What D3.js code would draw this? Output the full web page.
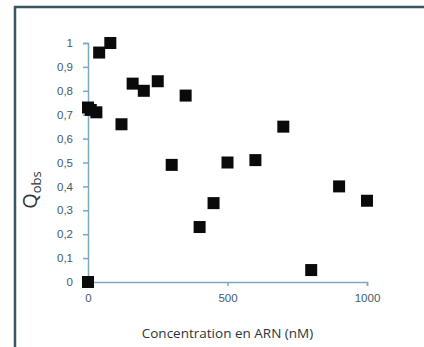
<!DOCTYPE html>
<html>
<head>
<meta charset="utf-8">
<script src="https://cdn.jsdelivr.net/npm/d3@7"></script>
<style>
  body { margin: 0; background: #fff; }
  svg { display: block; }
</style>
</head>
<body>
<svg id="chart"></svg>
<script>
// concentration (nM) and Qobs
const concentration = [0, 0, 10, 30, 40, 80, 120, 160, 200, 250, 300, 350, 400, 450, 500, 600, 700, 800, 900, 1000];
const qobs = [0, 0.73, 0.72, 0.71, 0.96, 1.0, 0.66, 0.83, 0.80, 0.84, 0.49, 0.78, 0.23, 0.33, 0.50, 0.51, 0.65, 0.05, 0.40, 0.34];
const xTicks = [0, 500, 1000];
const yTicks = [0, 0.1, 0.2, 0.3, 0.4, 0.5, 0.6, 0.7, 0.8, 0.9, 1];

const width = 424;
const height = 347;
const margin = {top: 43, left: 88, bottom: 65, right: 57};
const iwidth = width - margin.left - margin.right;
const iheight = height - margin.top - margin.bottom;

const svg = d3.select("#chart")
  .attr("width", width)
  .attr("height", height)
  .style("font-family", "'Open Sans', sans-serif");

// outer frame (runs off the right and bottom edges)
svg.append("path")
  .attr("d", `M15,${height + 5}V7H${width + 5}`)
  .attr("fill", "none")
  .attr("stroke", "#3a5662")
  .attr("stroke-width", 2.5);

const g = svg.append("g").attr("transform", `translate(${margin.left},${margin.top})`);

const x = d3.scaleLinear().domain([0, 1000]).range([0, iwidth]);
const y = d3.scaleLinear().domain([0, 1]).range([iheight, 0]);

const fmt = d => String(d).replace(".", ",");

const xAxis = g.append("g")
  .attr("transform", `translate(0,${iheight})`)
  .call(d3.axisBottom(x).tickValues(xTicks).tickSize(4).tickPadding(8).tickFormat(d3.format("d")));

const yAxis = g.append("g")
  .call(d3.axisLeft(y).tickValues(yTicks).tickSize(5).tickPadding(10).tickFormat(fmt));

[xAxis, yAxis].forEach(a => {
  a.select(".domain").attr("stroke", "#7ba7c4").attr("stroke-width", 1.5);
  a.selectAll(".tick line").attr("stroke", "#7ba7c4").attr("stroke-width", 1.5);
  a.selectAll(".tick text").attr("fill", "#3f5a6a").style("font-size", "11.5px");
});

g.selectAll("rect.pt")
  .data(concentration.map((c, i) => ({c, q: qobs[i]})))
  .enter().append("rect")
  .attr("class", "pt")
  .attr("x", d => x(d.c) - 6)
  .attr("y", d => y(d.q) - 6)
  .attr("width", 12)
  .attr("height", 12)
  .attr("fill", "#0a0a0a");

svg.append("text")
  .attr("x", margin.left + iwidth * 0.5)
  .attr("y", 338)
  .attr("text-anchor", "middle")
  .attr("fill", "#2c3438")
  .style("font-size", "13.5px")
  .text("Concentration en ARN (nM)");

const yt = svg.append("text")
  .attr("transform", "translate(37,190) rotate(-90)")
  .attr("text-anchor", "middle")
  .attr("fill", "#2c3438")
  .style("font-size", "20px");
yt.append("tspan").text("Q");
yt.append("tspan").attr("dy", 4).style("font-size", "13px").text("obs");
</script>
</body>
</html>
